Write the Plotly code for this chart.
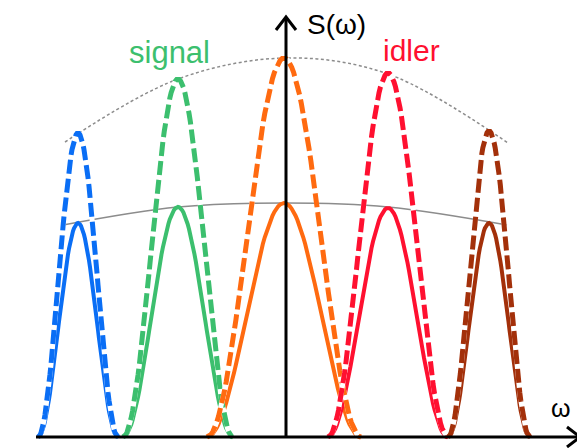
import numpy as np
import plotly.graph_objects as go

# peaks, x in px relative to the S(w) axis, heights in px above the w axis
names = ["blue", "signal", "pump", "idler", "brown"]
colors = ["#0a6ef5", "#3cbf6e", "#ff6a10", "#ff1030", "#a3300a"]
centers = [-208, -108, -2, 102, 203]
half_base = [40, 55, 77, 60, 41]
h_solid = [214, 230, 234, 229, 214]
h_dashed = [304, 358, 379, 364, 306]

# envelopes through the peak tops
env_solid_x = [-223, -108, 0, 102, 221]
env_solid_y = [212, 230, 234, 230, 212]
env_dot_x = [-221, -108, 0, 102, 222]
env_dot_y = [295, 358, 379, 363, 294]

fig = go.Figure()


def profile(c, w, h):
    x = np.linspace(c - w, c + w, 81)
    y = h * np.cos(np.pi * (x - c) / (2 * w)) ** 2
    return x, y


fig.add_trace(go.Scatter(x=env_solid_x, y=env_solid_y, mode="lines", line_shape="spline",
                         line=dict(color="#8c8c8c", width=1.5)))
fig.add_trace(go.Scatter(x=env_dot_x, y=env_dot_y, mode="lines", line_shape="spline",
                         line=dict(color="#8c8c8c", width=1.5, dash="3px,2.5px")))

for c, w, h, col in zip(centers, half_base, h_solid, colors):
    x, y = profile(c, w, h)
    fig.add_trace(go.Scatter(x=x, y=y, mode="lines", line=dict(color=col, width=4)))

for c, w, h, col in zip(centers, half_base, h_dashed, colors):
    x, y = profile(c, w, h)
    fig.add_trace(go.Scatter(x=x, y=y, mode="lines", line=dict(color="white", width=5)))
    fig.add_trace(go.Scatter(x=x, y=y, mode="lines", line=dict(color=col, width=5, dash="14px,5px")))

# axes with open arrow heads
ax = dict(type="path", line=dict(color="black", width=3), layer="above")
fig.add_shape(path="M -250 0 L 294 0", **ax)
fig.add_shape(path="M 281 10 L 294 0 L 281 -10", **ax)
fig.add_shape(path="M 0 0 L 0 420", **ax)
fig.add_shape(path="M -10 407 L 0 420 L 10 407", **ax)

font = "Liberation Sans, Arial, sans-serif"
fig.add_annotation(x=-117, y=385, text="signal", showarrow=False,
                   font=dict(family=font, size=31, color=colors[1]))
fig.add_annotation(x=125, y=387, text="idler", showarrow=False,
                   font=dict(family=font, size=30, color=colors[3]))
fig.add_annotation(x=50, y=413, text="S(ω)", showarrow=False,
                   font=dict(family=font, size=28, color="black"))
fig.add_annotation(x=275, y=29, text="ω", showarrow=False,
                   font=dict(family=font, size=25, color="black"))

# page body keeps an 8px margin, so the figure is 8px smaller each way
fig.update_layout(
    width=577, height=440,
    margin=dict(l=0, r=0, t=0, b=0),
    paper_bgcolor="white", plot_bgcolor="white",
    showlegend=False,
    xaxis=dict(range=[-278, 299], visible=False, fixedrange=True),
    yaxis=dict(range=[-11, 429], visible=False, fixedrange=True),
)

fig.write_html("out.html", config={"displayModeBar": False})
